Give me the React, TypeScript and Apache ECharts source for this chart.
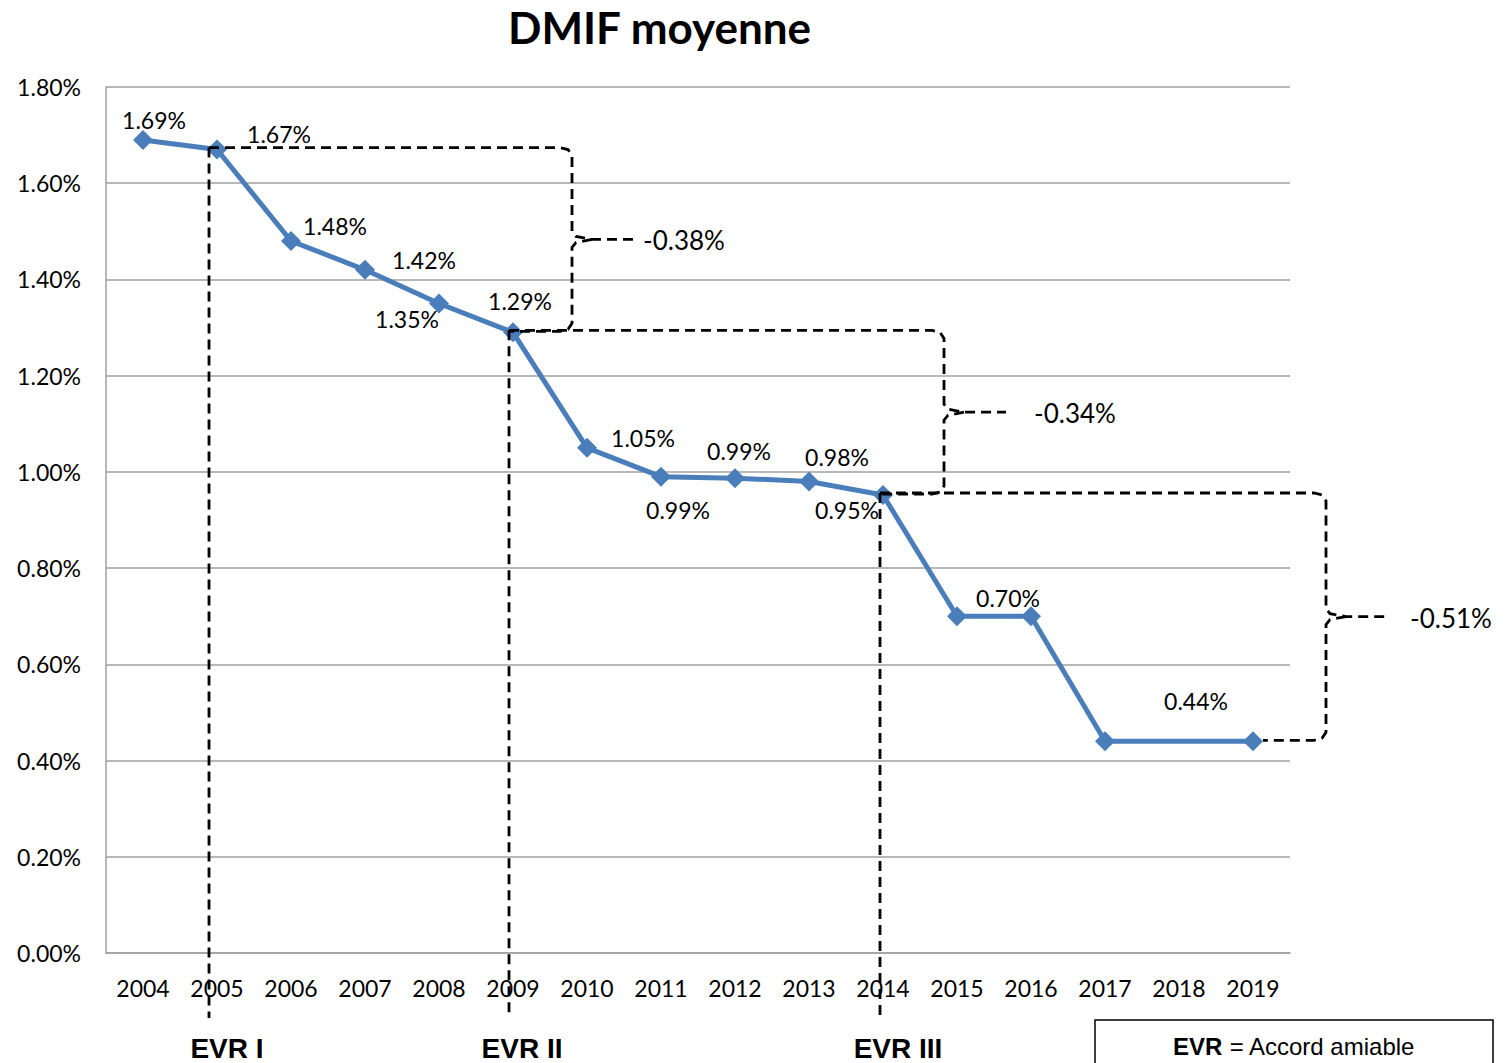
import React, { useEffect, useRef } from "react";
import * as echarts from "echarts";

const years = ["2004", "2005", "2006", "2007", "2008", "2009", "2010", "2011", "2012", "2013", "2014", "2015", "2016", "2017", "2018", "2019"];
const dmif: (number | null)[] = [1.69, 1.67, 1.48, 1.42, 1.35, 1.29, 1.05, 0.99, 0.987, 0.98, 0.952, 0.70, 0.70, 0.44, null, 0.44];
const yTicks = { min: 0, max: 1.8, interval: 0.2 };
const evrIdx = [1, 5, 10];
const evrNames = ["EVR I", "EVR II", "EVR III"];
const braceDefs = [
  { from: 1, to: 5, text: "-0.38%" },
  { from: 5, to: 10, text: "-0.34%" },
  { from: 10, to: 15, text: "-0.51%" },
];

// label placement (style only)
const labelOffsets: ([number, number] | null)[] = [
  [11, -20], [62, -16], [44, -15], [59, -10], [-32, 15], [7, -31], [56, -10], [17, 33],
  [4, -27], [28, -25], [-36, 15], null, [-23, -18], null, null, [-57, -40],
];
const braceStyle = [
  { dx: 59, textDx: 71 },
  { dx: 61, textDx: 90 },
  { dx: 73, textDx: 84 },
];
const evrLineDx = [-8, -4, -3];
const evrTextDx = [18, 13, 18];

const FONT = "Lato, 'Open Sans', sans-serif";
const BLUE = "#4a7ebb";
const GRAY = "#a0a0a0";

export default function App() {
  const ref = useRef<HTMLDivElement>(null);
  useEffect(() => {
    const chart = echarts.init(ref.current!, null, { renderer: "svg" });
    const data = dmif.map((v, i) => {
      const off = labelOffsets[i];
      return {
        value: v,
        label: off
          ? { show: true, position: "inside", offset: off, formatter: (p: any) => p.value.toFixed(2) + "%" }
          : { show: false },
      };
    });
    chart.setOption({
      animation: false,
      backgroundColor: "#ffffff",
      title: {
        text: "DMIF moyenne",
        left: 503,
        top: 0,
        textStyle: { fontFamily: FONT, fontWeight: "bold", fontSize: 44, color: "#000" },
      },
      grid: { left: 106, right: 217, top: 87, bottom: 110 },
      xAxis: {
        type: "category",
        data: years,
        boundaryGap: true,
        axisLine: { show: true, lineStyle: { color: GRAY, width: 1.5 } },
        axisTick: { show: false },
        axisLabel: { color: "#000", fontFamily: FONT, fontSize: 23, margin: 23 },
      },
      yAxis: {
        type: "value",
        min: yTicks.min,
        max: yTicks.max,
        interval: yTicks.interval,
        axisLine: { show: true, lineStyle: { color: GRAY, width: 1.5 } },
        axisTick: { show: false },
        splitLine: { show: true, lineStyle: { color: GRAY, width: 1.5 } },
        axisLabel: {
          color: "#000",
          fontFamily: FONT,
          fontSize: 23,
          margin: 25,
          formatter: (v: number) => v.toFixed(2) + "%",
        },
      },
      series: [
        {
          type: "line",
          data,
          connectNulls: true,
          symbol: "diamond",
          symbolSize: 20,
          showAllSymbol: true,
          lineStyle: { color: BLUE, width: 5 },
          itemStyle: { color: BLUE },
          label: { color: "#000", fontFamily: FONT, fontSize: 23, align: "center", verticalAlign: "middle" },
          z: 3,
        },
      ],
    });

    const px = (i: number, v: number) => chart.convertToPixel({ seriesIndex: 0 }, [i, v]) as number[];
    const bottomPx = chart.convertToPixel({ yAxisIndex: 0 }, 0) as number;
    const lineBottom = bottomPx + 65;
    const dash = { stroke: "#000", lineWidth: 2.8, lineDash: [10, 6], fill: null };
    const g: any[] = [];
    const lineX: Record<number, number> = {};

    evrIdx.forEach((idx, k) => {
      const [x, y] = px(idx, dmif[idx] as number);
      const lx = x + evrLineDx[k];
      lineX[idx] = lx;
      g.push({ type: "line", z: 10, shape: { x1: lx, y1: y - 2, x2: lx, y2: lineBottom }, style: dash });
      g.push({
        type: "text",
        z: 10,
        x: lx + evrTextDx[k],
        y: bottomPx + 95,
        style: {
          text: evrNames[k],
          fill: "#000",
          font: "bold 28px 'Liberation Sans', Arial, sans-serif",
          textAlign: "center",
          textVerticalAlign: "middle",
        },
      });
    });

    braceDefs.forEach((b, k) => {
      const [, yf] = px(b.from, dmif[b.from] as number);
      const [xt, yt] = px(b.to, dmif[b.to] as number);
      const xStart = lineX[b.from];
      const yT = yf - 2;
      const yB = yt - 1;
      const xEnd = lineX[b.to] !== undefined ? lineX[b.to] : xt + 10;
      const xBr = xt + braceStyle[k].dx;
      const yM = (yT + yB) / 2;
      const xTip = xBr + 62;
      const upper = [
        [xStart, yT], [xBr - 12, yT], [xBr - 4, yT + 2], [xBr, yT + 8],
        [xBr, yM - 8], [xBr + 4, yM - 3], [xBr + 20, yM], [xTip, yM],
      ];
      const lower = [
        [xBr + 20, yM], [xBr + 4, yM + 3], [xBr, yM + 8], [xBr, yB - 8],
        [xBr - 4, yB - 2], [xBr - 12, yB], [xEnd, yB],
      ];
      g.push({ type: "polyline", z: 10, shape: { points: upper }, style: dash });
      g.push({ type: "polyline", z: 10, shape: { points: lower }, style: dash });
      g.push({
        type: "text",
        z: 10,
        x: xBr + braceStyle[k].textDx,
        y: yM + 1,
        style: {
          text: b.text,
          fill: "#000",
          font: `26px ${FONT}`,
          textAlign: "left",
          textVerticalAlign: "middle",
        },
      });
    });

    g.push({
      type: "rect",
      z: 10,
      shape: { x: 1095, y: 1020, width: 398, height: 60 },
      style: { fill: "#fff", stroke: "#000", lineWidth: 1.5 },
    });
    g.push({
      type: "text",
      z: 11,
      x: 1294,
      y: 1046,
      style: {
        text: "{b|EVR} = Accord amiable",
        rich: {
          b: { fontWeight: "bold", fontSize: 24, fontFamily: "'Liberation Sans', Arial, sans-serif", fill: "#000" },
        },
        fontSize: 24,
        fontFamily: "'Liberation Sans', Arial, sans-serif",
        fill: "#000",
        align: "center",
        verticalAlign: "middle",
      },
    });

    chart.setOption({ graphic: g });
    return () => chart.dispose();
  }, []);
  return <div ref={ref} style={{ position: "fixed", left: 0, top: 0, width: 1507, height: 1063 }} />;
}
